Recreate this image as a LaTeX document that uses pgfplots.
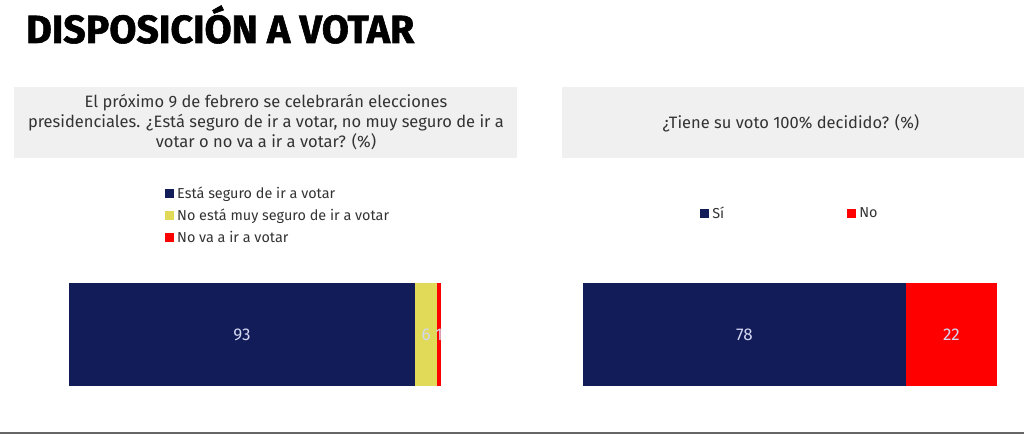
\documentclass[border=0pt]{standalone}
\usepackage{pgfplots}
\pgfplotsset{compat=1.18}
\usepackage{fontspec}
\setmainfont{Fira Sans}
\newfontfamily\titlefont{Fira Sans}[BoldFeatures={FakeBold=1.5}]
\definecolor{navy}{HTML}{121C59}
\definecolor{yell}{HTML}{E0DA58}
\definecolor{redd}{HTML}{FF0000}
\definecolor{boxgray}{HTML}{F0F0F0}
\definecolor{txt}{HTML}{333333}
\definecolor{lbl}{HTML}{D4D7F0}
\pgfplotsset{
  barpanel/.style={
    anchor=south west, height=103pt, scale only axis,
    xbar stacked, bar width=1, xmin=0, xmax=100, ymin=-0.5, ymax=0.5,
    hide axis, clip=false,
    legend cell align=left,
    legend image code/.code={\fill[##1] (0pt,-4.5pt) rectangle (9pt,4.5pt);
      \path (11pt,0pt);},
    legend style={draw=none, fill=none, inner sep=0pt,
      font=\fontsize{14.4}{14.4}\selectfont\color{txt},
      nodes={inner xsep=1pt}},
  },
  labelpanel/.style={
    anchor=south west, height=103pt, scale only axis,
    xmin=0, xmax=100, ymin=-0.5, ymax=0.5, hide axis, clip=false,
    nodes near coords, point meta=explicit symbolic,
    every node near coord/.append style={anchor=center, text=lbl,
      font=\fontsize{17}{17}\selectfont},
  },
}
\begin{document}
\begin{tikzpicture}
\useasboundingbox (0,0) rectangle (1024pt,434pt);
% title
\node[anchor=base west, inner sep=0] at (26pt,391pt)
  {\resizebox{388pt}{!}{\fontsize{36}{36}\selectfont\titlefont\bfseries DISPOSICIÓN A VOTAR}};
% question boxes
\fill[boxgray] (14pt,347pt) rectangle (517pt,276pt);
\fill[boxgray] (562pt,347pt) rectangle (1024pt,276pt);
\node[align=center, text=txt, font=\fontsize{16.5}{20}\selectfont] at (266pt,312pt)
  {El próximo 9 de febrero se celebrarán elecciones\\
   presidenciales. ¿Está seguro de ir a votar, no muy seguro de ir a\\
   votar o no va a ir a votar? (\%)};
\node[text=txt, font=\fontsize{16.5}{20}\selectfont] at (791pt,311pt)
  {¿Tiene su voto 100\% decidido? (\%)};
% bottom rule
\draw[line width=2pt, gray!80!black] (0,1pt) -- (1024pt,1pt);

\begin{axis}[barpanel, at={(69pt,48pt)}, width=372pt,
  legend style={at={(0.258,1.951)}, anchor=north west, row sep=5pt}]
\addplot[fill=navy, draw=none] coordinates {(93,0)};
\addplot[fill=yell, draw=none] coordinates {(6,0)};
\addplot[fill=redd, draw=none] coordinates {(1,0)};
\legend{Está seguro de ir a votar, No está muy seguro de ir a votar, No va a ir a votar}
\end{axis}
% value labels, centred on each segment
\begin{axis}[labelpanel, at={(69pt,48pt)}, width=372pt]
\addplot[draw=none, mark=none] coordinates {(46.5,0) [93] (96,0) [6] (99.5,0) [1]};
\end{axis}

\begin{axis}[barpanel, at={(583pt,48pt)}, width=414pt,
  legend columns=2,
  legend style={at={(0.283,1.757)}, anchor=north west,
    /tikz/column 2/.style={column sep=122pt}}]
\addplot[fill=navy, draw=none] coordinates {(78,0)};
\addplot[fill=redd, draw=none] coordinates {(22,0)};
\legend{Sí, No}
\end{axis}
\begin{axis}[labelpanel, at={(583pt,48pt)}, width=414pt]
\addplot[draw=none, mark=none] coordinates {(39,0) [78] (89,0) [22]};
\end{axis}
\end{tikzpicture}
\end{document}
